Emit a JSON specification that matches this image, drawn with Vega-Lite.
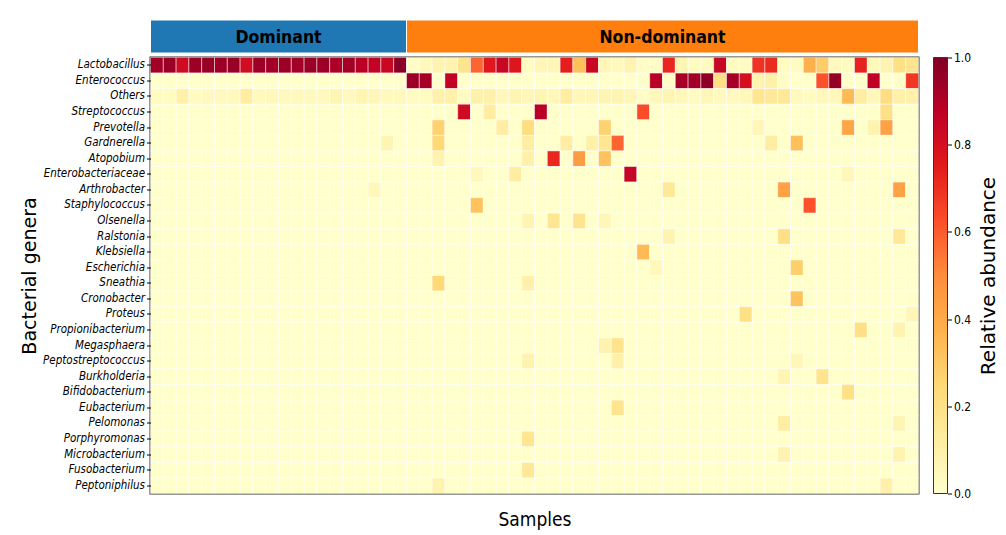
{
"$schema": "https://vega.github.io/schema/vega-lite/v6.json",
"background": "white",
"padding": {"left": 19.5, "top": 19, "right": 2, "bottom": 2},
"bounds": "flush",
"columns": 2,
"spacing": {"row": 4.5, "column": 15},
"config": {"view": {"stroke": null}},
"datasets": {
"groups": [{"group": "Dominant", "start": 0, "end": 20, "mid": 10}, {"group": "Non-dominant", "start": 20, "end": 60, "mid": 40}],
"bar": [{"lo": 0, "hi": 1}],
"genera": [{"g":0,"name":"Lactobacillus"},{"g":1,"name":"Enterococcus"},{"g":2,"name":"Others"},{"g":3,"name":"Streptococcus"},{"g":4,"name":"Prevotella"},{"g":5,"name":"Gardnerella"},{"g":6,"name":"Atopobium"},{"g":7,"name":"Enterobacteriaceae"},{"g":8,"name":"Arthrobacter"},{"g":9,"name":"Staphylococcus"},{"g":10,"name":"Olsenella"},{"g":11,"name":"Ralstonia"},{"g":12,"name":"Klebsiella"},{"g":13,"name":"Escherichia"},{"g":14,"name":"Sneathia"},{"g":15,"name":"Cronobacter"},{"g":16,"name":"Proteus"},{"g":17,"name":"Propionibacterium"},{"g":18,"name":"Megasphaera"},{"g":19,"name":"Peptostreptococcus"},{"g":20,"name":"Burkholderia"},{"g":21,"name":"Bifidobacterium"},{"g":22,"name":"Eubacterium"},{"g":23,"name":"Pelomonas"},{"g":24,"name":"Porphyromonas"},{"g":25,"name":"Microbacterium"},{"g":26,"name":"Fusobacterium"},{"g":27,"name":"Peptoniphilus"}],
"cells": [
{"s":1,"g":0,"v":0.93},{"s":2,"g":0,"v":0.94},{"s":3,"g":0,"v":0.82},{"s":4,"g":0,"v":0.94},{"s":5,"g":0,"v":0.95},{"s":6,"g":0,"v":0.94},{"s":7,"g":0,"v":0.95},{"s":8,"g":0,"v":0.81},{"s":9,"g":0,"v":0.94},{"s":10,"g":0,"v":0.93},
{"s":11,"g":0,"v":0.94},{"s":12,"g":0,"v":0.93},{"s":13,"g":0,"v":0.94},{"s":14,"g":0,"v":0.94},{"s":15,"g":0,"v":0.91},{"s":16,"g":0,"v":0.93},{"s":17,"g":0,"v":0.88},{"s":18,"g":0,"v":0.86},{"s":19,"g":0,"v":0.84},{"s":20,"g":0,"v":0.98},
{"s":21,"g":0,"v":0.02},{"s":22,"g":0,"v":0.04},{"s":23,"g":0,"v":0.08},{"s":24,"g":0,"v":0.08},{"s":25,"g":0,"v":0.18},{"s":26,"g":0,"v":0.58},{"s":27,"g":0,"v":0.76},{"s":28,"g":0,"v":0.84},{"s":29,"g":0,"v":0.77},{"s":30,"g":0,"v":0.03},
{"s":31,"g":0,"v":0.06},{"s":32,"g":0,"v":0.06},{"s":33,"g":0,"v":0.74},{"s":34,"g":0,"v":0.33},{"s":35,"g":0,"v":0.84},{"s":36,"g":0,"v":0.06},{"s":37,"g":0,"v":0.04},{"s":38,"g":0,"v":0.08},{"s":39,"g":0,"v":0.02},{"s":40,"g":0,"v":0.02},
{"s":41,"g":0,"v":0.72},{"s":42,"g":0,"v":0.07},{"s":43,"g":0,"v":0.03},{"s":44,"g":0,"v":0.03},{"s":45,"g":0,"v":0.84},{"s":46,"g":0,"v":0.03},{"s":47,"g":0,"v":0.03},{"s":48,"g":0,"v":0.69},{"s":49,"g":0,"v":0.71},{"s":50,"g":0,"v":0.03},
{"s":51,"g":0,"v":0.03},{"s":52,"g":0,"v":0.38},{"s":53,"g":0,"v":0.29},{"s":54,"g":0,"v":0.04},{"s":55,"g":0,"v":0.03},{"s":56,"g":0,"v":0.73},{"s":57,"g":0,"v":0.05},{"s":58,"g":0,"v":0.08},{"s":59,"g":0,"v":0.2},{"s":60,"g":0,"v":0.18},
{"s":1,"g":1,"v":0},{"s":2,"g":1,"v":0},{"s":3,"g":1,"v":0},{"s":4,"g":1,"v":0},{"s":5,"g":1,"v":0},{"s":6,"g":1,"v":0},{"s":7,"g":1,"v":0},{"s":8,"g":1,"v":0},{"s":9,"g":1,"v":0},{"s":10,"g":1,"v":0},
{"s":11,"g":1,"v":0},{"s":12,"g":1,"v":0},{"s":13,"g":1,"v":0},{"s":14,"g":1,"v":0},{"s":15,"g":1,"v":0},{"s":16,"g":1,"v":0},{"s":17,"g":1,"v":0},{"s":18,"g":1,"v":0},{"s":19,"g":1,"v":0},{"s":20,"g":1,"v":0},
{"s":21,"g":1,"v":0.94},{"s":22,"g":1,"v":0.92},{"s":23,"g":1,"v":0},{"s":24,"g":1,"v":0.86},{"s":25,"g":1,"v":0},{"s":26,"g":1,"v":0},{"s":27,"g":1,"v":0},{"s":28,"g":1,"v":0},{"s":29,"g":1,"v":0},{"s":30,"g":1,"v":0},
{"s":31,"g":1,"v":0},{"s":32,"g":1,"v":0},{"s":33,"g":1,"v":0},{"s":34,"g":1,"v":0},{"s":35,"g":1,"v":0},{"s":36,"g":1,"v":0},{"s":37,"g":1,"v":0},{"s":38,"g":1,"v":0},{"s":39,"g":1,"v":0},{"s":40,"g":1,"v":0.88},
{"s":41,"g":1,"v":0.02},{"s":42,"g":1,"v":0.92},{"s":43,"g":1,"v":0.93},{"s":44,"g":1,"v":0.97},{"s":45,"g":1,"v":0.2},{"s":46,"g":1,"v":0.92},{"s":47,"g":1,"v":0.8},{"s":48,"g":1,"v":0.08},{"s":49,"g":1,"v":0.1},{"s":50,"g":1,"v":0.02},
{"s":51,"g":1,"v":0},{"s":52,"g":1,"v":0},{"s":53,"g":1,"v":0.62},{"s":54,"g":1,"v":0.96},{"s":55,"g":1,"v":0},{"s":56,"g":1,"v":0},{"s":57,"g":1,"v":0.87},{"s":58,"g":1,"v":0},{"s":59,"g":1,"v":0},{"s":60,"g":1,"v":0.68},
{"s":1,"g":2,"v":0.03},{"s":2,"g":2,"v":0.03},{"s":3,"g":2,"v":0.1},{"s":4,"g":2,"v":0.03},{"s":5,"g":2,"v":0.04},{"s":6,"g":2,"v":0.04},{"s":7,"g":2,"v":0.04},{"s":8,"g":2,"v":0.12},{"s":9,"g":2,"v":0.04},{"s":10,"g":2,"v":0.05},
{"s":11,"g":2,"v":0.04},{"s":12,"g":2,"v":0.04},{"s":13,"g":2,"v":0.04},{"s":14,"g":2,"v":0.04},{"s":15,"g":2,"v":0.07},{"s":16,"g":2,"v":0.04},{"s":17,"g":2,"v":0.07},{"s":18,"g":2,"v":0.06},{"s":19,"g":2,"v":0.04},{"s":20,"g":2,"v":0.04},
{"s":21,"g":2,"v":0.03},{"s":22,"g":2,"v":0.03},{"s":23,"g":2,"v":0.1},{"s":24,"g":2,"v":0.1},{"s":25,"g":2,"v":0.03},{"s":26,"g":2,"v":0.1},{"s":27,"g":2,"v":0.1},{"s":28,"g":2,"v":0.05},{"s":29,"g":2,"v":0.07},{"s":30,"g":2,"v":0.06},
{"s":31,"g":2,"v":0.07},{"s":32,"g":2,"v":0.05},{"s":33,"g":2,"v":0.12},{"s":34,"g":2,"v":0.06},{"s":35,"g":2,"v":0.06},{"s":36,"g":2,"v":0.07},{"s":37,"g":2,"v":0.07},{"s":38,"g":2,"v":0.06},{"s":39,"g":2,"v":0.02},{"s":40,"g":2,"v":0.05},
{"s":41,"g":2,"v":0.07},{"s":42,"g":2,"v":0.05},{"s":43,"g":2,"v":0.03},{"s":44,"g":2,"v":0.06},{"s":45,"g":2,"v":0.04},{"s":46,"g":2,"v":0.04},{"s":47,"g":2,"v":0.05},{"s":48,"g":2,"v":0.17},{"s":49,"g":2,"v":0.15},{"s":50,"g":2,"v":0.15},
{"s":51,"g":2,"v":0.04},{"s":52,"g":2,"v":0.03},{"s":53,"g":2,"v":0.05},{"s":54,"g":2,"v":0.05},{"s":55,"g":2,"v":0.35},{"s":56,"g":2,"v":0.12},{"s":57,"g":2,"v":0.05},{"s":58,"g":2,"v":0.22},{"s":59,"g":2,"v":0.1},{"s":60,"g":2,"v":0.1},
{"s":1,"g":3,"v":0},{"s":2,"g":3,"v":0},{"s":3,"g":3,"v":0},{"s":4,"g":3,"v":0},{"s":5,"g":3,"v":0},{"s":6,"g":3,"v":0},{"s":7,"g":3,"v":0},{"s":8,"g":3,"v":0},{"s":9,"g":3,"v":0},{"s":10,"g":3,"v":0},
{"s":11,"g":3,"v":0},{"s":12,"g":3,"v":0},{"s":13,"g":3,"v":0},{"s":14,"g":3,"v":0},{"s":15,"g":3,"v":0},{"s":16,"g":3,"v":0},{"s":17,"g":3,"v":0},{"s":18,"g":3,"v":0},{"s":19,"g":3,"v":0},{"s":20,"g":3,"v":0},
{"s":21,"g":3,"v":0},{"s":22,"g":3,"v":0},{"s":23,"g":3,"v":0},{"s":24,"g":3,"v":0},{"s":25,"g":3,"v":0.82},{"s":26,"g":3,"v":0},{"s":27,"g":3,"v":0.12},{"s":28,"g":3,"v":0},{"s":29,"g":3,"v":0},{"s":30,"g":3,"v":0},
{"s":31,"g":3,"v":0.88},{"s":32,"g":3,"v":0},{"s":33,"g":3,"v":0},{"s":34,"g":3,"v":0},{"s":35,"g":3,"v":0},{"s":36,"g":3,"v":0},{"s":37,"g":3,"v":0},{"s":38,"g":3,"v":0},{"s":39,"g":3,"v":0.63},{"s":40,"g":3,"v":0},
{"s":41,"g":3,"v":0},{"s":42,"g":3,"v":0},{"s":43,"g":3,"v":0},{"s":44,"g":3,"v":0},{"s":45,"g":3,"v":0},{"s":46,"g":3,"v":0},{"s":47,"g":3,"v":0},{"s":48,"g":3,"v":0},{"s":49,"g":3,"v":0},{"s":50,"g":3,"v":0},
{"s":51,"g":3,"v":0},{"s":52,"g":3,"v":0},{"s":53,"g":3,"v":0},{"s":54,"g":3,"v":0},{"s":55,"g":3,"v":0},{"s":56,"g":3,"v":0},{"s":57,"g":3,"v":0},{"s":58,"g":3,"v":0.2},{"s":59,"g":3,"v":0},{"s":60,"g":3,"v":0},
{"s":1,"g":4,"v":0},{"s":2,"g":4,"v":0},{"s":3,"g":4,"v":0},{"s":4,"g":4,"v":0},{"s":5,"g":4,"v":0},{"s":6,"g":4,"v":0},{"s":7,"g":4,"v":0},{"s":8,"g":4,"v":0},{"s":9,"g":4,"v":0},{"s":10,"g":4,"v":0},
{"s":11,"g":4,"v":0},{"s":12,"g":4,"v":0},{"s":13,"g":4,"v":0},{"s":14,"g":4,"v":0},{"s":15,"g":4,"v":0},{"s":16,"g":4,"v":0},{"s":17,"g":4,"v":0},{"s":18,"g":4,"v":0},{"s":19,"g":4,"v":0},{"s":20,"g":4,"v":0},
{"s":21,"g":4,"v":0},{"s":22,"g":4,"v":0},{"s":23,"g":4,"v":0.27},{"s":24,"g":4,"v":0},{"s":25,"g":4,"v":0},{"s":26,"g":4,"v":0},{"s":27,"g":4,"v":0},{"s":28,"g":4,"v":0.12},{"s":29,"g":4,"v":0},{"s":30,"g":4,"v":0.22},
{"s":31,"g":4,"v":0},{"s":32,"g":4,"v":0},{"s":33,"g":4,"v":0},{"s":34,"g":4,"v":0},{"s":35,"g":4,"v":0},{"s":36,"g":4,"v":0.27},{"s":37,"g":4,"v":0},{"s":38,"g":4,"v":0},{"s":39,"g":4,"v":0},{"s":40,"g":4,"v":0},
{"s":41,"g":4,"v":0},{"s":42,"g":4,"v":0},{"s":43,"g":4,"v":0},{"s":44,"g":4,"v":0},{"s":45,"g":4,"v":0},{"s":46,"g":4,"v":0},{"s":47,"g":4,"v":0},{"s":48,"g":4,"v":0.06},{"s":49,"g":4,"v":0},{"s":50,"g":4,"v":0},
{"s":51,"g":4,"v":0},{"s":52,"g":4,"v":0},{"s":53,"g":4,"v":0},{"s":54,"g":4,"v":0},{"s":55,"g":4,"v":0.42},{"s":56,"g":4,"v":0},{"s":57,"g":4,"v":0.08},{"s":58,"g":4,"v":0.43},{"s":59,"g":4,"v":0},{"s":60,"g":4,"v":0},
{"s":1,"g":5,"v":0},{"s":2,"g":5,"v":0},{"s":3,"g":5,"v":0},{"s":4,"g":5,"v":0},{"s":5,"g":5,"v":0},{"s":6,"g":5,"v":0},{"s":7,"g":5,"v":0},{"s":8,"g":5,"v":0},{"s":9,"g":5,"v":0},{"s":10,"g":5,"v":0},
{"s":11,"g":5,"v":0},{"s":12,"g":5,"v":0},{"s":13,"g":5,"v":0},{"s":14,"g":5,"v":0},{"s":15,"g":5,"v":0},{"s":16,"g":5,"v":0},{"s":17,"g":5,"v":0},{"s":18,"g":5,"v":0},{"s":19,"g":5,"v":0.07},{"s":20,"g":5,"v":0},
{"s":21,"g":5,"v":0},{"s":22,"g":5,"v":0},{"s":23,"g":5,"v":0.25},{"s":24,"g":5,"v":0},{"s":25,"g":5,"v":0},{"s":26,"g":5,"v":0},{"s":27,"g":5,"v":0},{"s":28,"g":5,"v":0},{"s":29,"g":5,"v":0},{"s":30,"g":5,"v":0.12},
{"s":31,"g":5,"v":0},{"s":32,"g":5,"v":0},{"s":33,"g":5,"v":0.12},{"s":34,"g":5,"v":0},{"s":35,"g":5,"v":0.1},{"s":36,"g":5,"v":0.17},{"s":37,"g":5,"v":0.58},{"s":38,"g":5,"v":0},{"s":39,"g":5,"v":0},{"s":40,"g":5,"v":0},
{"s":41,"g":5,"v":0},{"s":42,"g":5,"v":0},{"s":43,"g":5,"v":0},{"s":44,"g":5,"v":0},{"s":45,"g":5,"v":0},{"s":46,"g":5,"v":0},{"s":47,"g":5,"v":0},{"s":48,"g":5,"v":0},{"s":49,"g":5,"v":0.12},{"s":50,"g":5,"v":0},
{"s":51,"g":5,"v":0.33},{"s":52,"g":5,"v":0},{"s":53,"g":5,"v":0},{"s":54,"g":5,"v":0},{"s":55,"g":5,"v":0},{"s":56,"g":5,"v":0},{"s":57,"g":5,"v":0},{"s":58,"g":5,"v":0},{"s":59,"g":5,"v":0},{"s":60,"g":5,"v":0},
{"s":1,"g":6,"v":0},{"s":2,"g":6,"v":0},{"s":3,"g":6,"v":0},{"s":4,"g":6,"v":0},{"s":5,"g":6,"v":0},{"s":6,"g":6,"v":0},{"s":7,"g":6,"v":0},{"s":8,"g":6,"v":0},{"s":9,"g":6,"v":0},{"s":10,"g":6,"v":0},
{"s":11,"g":6,"v":0},{"s":12,"g":6,"v":0},{"s":13,"g":6,"v":0},{"s":14,"g":6,"v":0},{"s":15,"g":6,"v":0},{"s":16,"g":6,"v":0},{"s":17,"g":6,"v":0},{"s":18,"g":6,"v":0},{"s":19,"g":6,"v":0},{"s":20,"g":6,"v":0},
{"s":21,"g":6,"v":0},{"s":22,"g":6,"v":0},{"s":23,"g":6,"v":0.08},{"s":24,"g":6,"v":0},{"s":25,"g":6,"v":0},{"s":26,"g":6,"v":0},{"s":27,"g":6,"v":0},{"s":28,"g":6,"v":0},{"s":29,"g":6,"v":0},{"s":30,"g":6,"v":0.1},
{"s":31,"g":6,"v":0},{"s":32,"g":6,"v":0.72},{"s":33,"g":6,"v":0},{"s":34,"g":6,"v":0.45},{"s":35,"g":6,"v":0},{"s":36,"g":6,"v":0.32},{"s":37,"g":6,"v":0},{"s":38,"g":6,"v":0},{"s":39,"g":6,"v":0},{"s":40,"g":6,"v":0},
{"s":41,"g":6,"v":0},{"s":42,"g":6,"v":0},{"s":43,"g":6,"v":0},{"s":44,"g":6,"v":0},{"s":45,"g":6,"v":0},{"s":46,"g":6,"v":0},{"s":47,"g":6,"v":0},{"s":48,"g":6,"v":0},{"s":49,"g":6,"v":0},{"s":50,"g":6,"v":0},
{"s":51,"g":6,"v":0},{"s":52,"g":6,"v":0},{"s":53,"g":6,"v":0},{"s":54,"g":6,"v":0},{"s":55,"g":6,"v":0},{"s":56,"g":6,"v":0},{"s":57,"g":6,"v":0},{"s":58,"g":6,"v":0},{"s":59,"g":6,"v":0},{"s":60,"g":6,"v":0},
{"s":1,"g":7,"v":0},{"s":2,"g":7,"v":0},{"s":3,"g":7,"v":0},{"s":4,"g":7,"v":0},{"s":5,"g":7,"v":0},{"s":6,"g":7,"v":0},{"s":7,"g":7,"v":0},{"s":8,"g":7,"v":0},{"s":9,"g":7,"v":0},{"s":10,"g":7,"v":0},
{"s":11,"g":7,"v":0},{"s":12,"g":7,"v":0},{"s":13,"g":7,"v":0},{"s":14,"g":7,"v":0},{"s":15,"g":7,"v":0},{"s":16,"g":7,"v":0},{"s":17,"g":7,"v":0},{"s":18,"g":7,"v":0},{"s":19,"g":7,"v":0},{"s":20,"g":7,"v":0},
{"s":21,"g":7,"v":0},{"s":22,"g":7,"v":0},{"s":23,"g":7,"v":0},{"s":24,"g":7,"v":0},{"s":25,"g":7,"v":0},{"s":26,"g":7,"v":0.05},{"s":27,"g":7,"v":0},{"s":28,"g":7,"v":0},{"s":29,"g":7,"v":0.12},{"s":30,"g":7,"v":0},
{"s":31,"g":7,"v":0},{"s":32,"g":7,"v":0},{"s":33,"g":7,"v":0},{"s":34,"g":7,"v":0},{"s":35,"g":7,"v":0},{"s":36,"g":7,"v":0},{"s":37,"g":7,"v":0},{"s":38,"g":7,"v":0.85},{"s":39,"g":7,"v":0},{"s":40,"g":7,"v":0},
{"s":41,"g":7,"v":0},{"s":42,"g":7,"v":0},{"s":43,"g":7,"v":0},{"s":44,"g":7,"v":0},{"s":45,"g":7,"v":0},{"s":46,"g":7,"v":0},{"s":47,"g":7,"v":0},{"s":48,"g":7,"v":0},{"s":49,"g":7,"v":0},{"s":50,"g":7,"v":0},
{"s":51,"g":7,"v":0},{"s":52,"g":7,"v":0},{"s":53,"g":7,"v":0},{"s":54,"g":7,"v":0},{"s":55,"g":7,"v":0.06},{"s":56,"g":7,"v":0},{"s":57,"g":7,"v":0},{"s":58,"g":7,"v":0},{"s":59,"g":7,"v":0},{"s":60,"g":7,"v":0},
{"s":1,"g":8,"v":0},{"s":2,"g":8,"v":0},{"s":3,"g":8,"v":0},{"s":4,"g":8,"v":0},{"s":5,"g":8,"v":0},{"s":6,"g":8,"v":0},{"s":7,"g":8,"v":0},{"s":8,"g":8,"v":0},{"s":9,"g":8,"v":0},{"s":10,"g":8,"v":0},
{"s":11,"g":8,"v":0},{"s":12,"g":8,"v":0},{"s":13,"g":8,"v":0},{"s":14,"g":8,"v":0},{"s":15,"g":8,"v":0},{"s":16,"g":8,"v":0},{"s":17,"g":8,"v":0},{"s":18,"g":8,"v":0.05},{"s":19,"g":8,"v":0},{"s":20,"g":8,"v":0},
{"s":21,"g":8,"v":0},{"s":22,"g":8,"v":0},{"s":23,"g":8,"v":0},{"s":24,"g":8,"v":0},{"s":25,"g":8,"v":0},{"s":26,"g":8,"v":0},{"s":27,"g":8,"v":0},{"s":28,"g":8,"v":0},{"s":29,"g":8,"v":0},{"s":30,"g":8,"v":0},
{"s":31,"g":8,"v":0},{"s":32,"g":8,"v":0},{"s":33,"g":8,"v":0},{"s":34,"g":8,"v":0},{"s":35,"g":8,"v":0},{"s":36,"g":8,"v":0},{"s":37,"g":8,"v":0},{"s":38,"g":8,"v":0},{"s":39,"g":8,"v":0},{"s":40,"g":8,"v":0},
{"s":41,"g":8,"v":0.15},{"s":42,"g":8,"v":0},{"s":43,"g":8,"v":0},{"s":44,"g":8,"v":0},{"s":45,"g":8,"v":0},{"s":46,"g":8,"v":0},{"s":47,"g":8,"v":0},{"s":48,"g":8,"v":0},{"s":49,"g":8,"v":0},{"s":50,"g":8,"v":0.43},
{"s":51,"g":8,"v":0},{"s":52,"g":8,"v":0},{"s":53,"g":8,"v":0},{"s":54,"g":8,"v":0},{"s":55,"g":8,"v":0},{"s":56,"g":8,"v":0},{"s":57,"g":8,"v":0},{"s":58,"g":8,"v":0},{"s":59,"g":8,"v":0.43},{"s":60,"g":8,"v":0},
{"s":1,"g":9,"v":0},{"s":2,"g":9,"v":0},{"s":3,"g":9,"v":0},{"s":4,"g":9,"v":0},{"s":5,"g":9,"v":0},{"s":6,"g":9,"v":0},{"s":7,"g":9,"v":0},{"s":8,"g":9,"v":0},{"s":9,"g":9,"v":0},{"s":10,"g":9,"v":0},
{"s":11,"g":9,"v":0},{"s":12,"g":9,"v":0},{"s":13,"g":9,"v":0},{"s":14,"g":9,"v":0},{"s":15,"g":9,"v":0},{"s":16,"g":9,"v":0},{"s":17,"g":9,"v":0},{"s":18,"g":9,"v":0},{"s":19,"g":9,"v":0},{"s":20,"g":9,"v":0},
{"s":21,"g":9,"v":0},{"s":22,"g":9,"v":0},{"s":23,"g":9,"v":0},{"s":24,"g":9,"v":0},{"s":25,"g":9,"v":0},{"s":26,"g":9,"v":0.32},{"s":27,"g":9,"v":0},{"s":28,"g":9,"v":0},{"s":29,"g":9,"v":0},{"s":30,"g":9,"v":0},
{"s":31,"g":9,"v":0},{"s":32,"g":9,"v":0},{"s":33,"g":9,"v":0},{"s":34,"g":9,"v":0},{"s":35,"g":9,"v":0},{"s":36,"g":9,"v":0},{"s":37,"g":9,"v":0},{"s":38,"g":9,"v":0},{"s":39,"g":9,"v":0},{"s":40,"g":9,"v":0},
{"s":41,"g":9,"v":0},{"s":42,"g":9,"v":0},{"s":43,"g":9,"v":0},{"s":44,"g":9,"v":0},{"s":45,"g":9,"v":0},{"s":46,"g":9,"v":0},{"s":47,"g":9,"v":0},{"s":48,"g":9,"v":0},{"s":49,"g":9,"v":0},{"s":50,"g":9,"v":0},
{"s":51,"g":9,"v":0},{"s":52,"g":9,"v":0.62},{"s":53,"g":9,"v":0},{"s":54,"g":9,"v":0},{"s":55,"g":9,"v":0},{"s":56,"g":9,"v":0},{"s":57,"g":9,"v":0},{"s":58,"g":9,"v":0},{"s":59,"g":9,"v":0},{"s":60,"g":9,"v":0},
{"s":1,"g":10,"v":0},{"s":2,"g":10,"v":0},{"s":3,"g":10,"v":0},{"s":4,"g":10,"v":0},{"s":5,"g":10,"v":0},{"s":6,"g":10,"v":0},{"s":7,"g":10,"v":0},{"s":8,"g":10,"v":0},{"s":9,"g":10,"v":0},{"s":10,"g":10,"v":0},
{"s":11,"g":10,"v":0},{"s":12,"g":10,"v":0},{"s":13,"g":10,"v":0},{"s":14,"g":10,"v":0},{"s":15,"g":10,"v":0},{"s":16,"g":10,"v":0},{"s":17,"g":10,"v":0},{"s":18,"g":10,"v":0},{"s":19,"g":10,"v":0},{"s":20,"g":10,"v":0},
{"s":21,"g":10,"v":0},{"s":22,"g":10,"v":0},{"s":23,"g":10,"v":0},{"s":24,"g":10,"v":0},{"s":25,"g":10,"v":0},{"s":26,"g":10,"v":0},{"s":27,"g":10,"v":0},{"s":28,"g":10,"v":0},{"s":29,"g":10,"v":0},{"s":30,"g":10,"v":0.07},
{"s":31,"g":10,"v":0},{"s":32,"g":10,"v":0.17},{"s":33,"g":10,"v":0},{"s":34,"g":10,"v":0.18},{"s":35,"g":10,"v":0},{"s":36,"g":10,"v":0.06},{"s":37,"g":10,"v":0},{"s":38,"g":10,"v":0},{"s":39,"g":10,"v":0},{"s":40,"g":10,"v":0},
{"s":41,"g":10,"v":0},{"s":42,"g":10,"v":0},{"s":43,"g":10,"v":0},{"s":44,"g":10,"v":0},{"s":45,"g":10,"v":0},{"s":46,"g":10,"v":0},{"s":47,"g":10,"v":0},{"s":48,"g":10,"v":0},{"s":49,"g":10,"v":0},{"s":50,"g":10,"v":0},
{"s":51,"g":10,"v":0},{"s":52,"g":10,"v":0},{"s":53,"g":10,"v":0},{"s":54,"g":10,"v":0},{"s":55,"g":10,"v":0},{"s":56,"g":10,"v":0},{"s":57,"g":10,"v":0},{"s":58,"g":10,"v":0},{"s":59,"g":10,"v":0},{"s":60,"g":10,"v":0},
{"s":1,"g":11,"v":0},{"s":2,"g":11,"v":0},{"s":3,"g":11,"v":0},{"s":4,"g":11,"v":0},{"s":5,"g":11,"v":0},{"s":6,"g":11,"v":0},{"s":7,"g":11,"v":0},{"s":8,"g":11,"v":0},{"s":9,"g":11,"v":0},{"s":10,"g":11,"v":0},
{"s":11,"g":11,"v":0},{"s":12,"g":11,"v":0},{"s":13,"g":11,"v":0},{"s":14,"g":11,"v":0},{"s":15,"g":11,"v":0},{"s":16,"g":11,"v":0},{"s":17,"g":11,"v":0},{"s":18,"g":11,"v":0},{"s":19,"g":11,"v":0},{"s":20,"g":11,"v":0},
{"s":21,"g":11,"v":0},{"s":22,"g":11,"v":0},{"s":23,"g":11,"v":0},{"s":24,"g":11,"v":0},{"s":25,"g":11,"v":0},{"s":26,"g":11,"v":0},{"s":27,"g":11,"v":0},{"s":28,"g":11,"v":0},{"s":29,"g":11,"v":0},{"s":30,"g":11,"v":0},
{"s":31,"g":11,"v":0},{"s":32,"g":11,"v":0},{"s":33,"g":11,"v":0},{"s":34,"g":11,"v":0},{"s":35,"g":11,"v":0},{"s":36,"g":11,"v":0},{"s":37,"g":11,"v":0},{"s":38,"g":11,"v":0},{"s":39,"g":11,"v":0},{"s":40,"g":11,"v":0},
{"s":41,"g":11,"v":0.08},{"s":42,"g":11,"v":0},{"s":43,"g":11,"v":0},{"s":44,"g":11,"v":0},{"s":45,"g":11,"v":0},{"s":46,"g":11,"v":0},{"s":47,"g":11,"v":0},{"s":48,"g":11,"v":0},{"s":49,"g":11,"v":0},{"s":50,"g":11,"v":0.2},
{"s":51,"g":11,"v":0},{"s":52,"g":11,"v":0},{"s":53,"g":11,"v":0},{"s":54,"g":11,"v":0},{"s":55,"g":11,"v":0},{"s":56,"g":11,"v":0},{"s":57,"g":11,"v":0},{"s":58,"g":11,"v":0},{"s":59,"g":11,"v":0.15},{"s":60,"g":11,"v":0},
{"s":1,"g":12,"v":0},{"s":2,"g":12,"v":0},{"s":3,"g":12,"v":0},{"s":4,"g":12,"v":0},{"s":5,"g":12,"v":0},{"s":6,"g":12,"v":0},{"s":7,"g":12,"v":0},{"s":8,"g":12,"v":0},{"s":9,"g":12,"v":0},{"s":10,"g":12,"v":0},
{"s":11,"g":12,"v":0},{"s":12,"g":12,"v":0},{"s":13,"g":12,"v":0},{"s":14,"g":12,"v":0},{"s":15,"g":12,"v":0},{"s":16,"g":12,"v":0},{"s":17,"g":12,"v":0},{"s":18,"g":12,"v":0},{"s":19,"g":12,"v":0},{"s":20,"g":12,"v":0},
{"s":21,"g":12,"v":0},{"s":22,"g":12,"v":0},{"s":23,"g":12,"v":0},{"s":24,"g":12,"v":0},{"s":25,"g":12,"v":0},{"s":26,"g":12,"v":0},{"s":27,"g":12,"v":0},{"s":28,"g":12,"v":0},{"s":29,"g":12,"v":0},{"s":30,"g":12,"v":0},
{"s":31,"g":12,"v":0},{"s":32,"g":12,"v":0},{"s":33,"g":12,"v":0},{"s":34,"g":12,"v":0},{"s":35,"g":12,"v":0},{"s":36,"g":12,"v":0},{"s":37,"g":12,"v":0},{"s":38,"g":12,"v":0},{"s":39,"g":12,"v":0.35},{"s":40,"g":12,"v":0},
{"s":41,"g":12,"v":0},{"s":42,"g":12,"v":0},{"s":43,"g":12,"v":0},{"s":44,"g":12,"v":0},{"s":45,"g":12,"v":0},{"s":46,"g":12,"v":0},{"s":47,"g":12,"v":0},{"s":48,"g":12,"v":0},{"s":49,"g":12,"v":0},{"s":50,"g":12,"v":0},
{"s":51,"g":12,"v":0},{"s":52,"g":12,"v":0},{"s":53,"g":12,"v":0},{"s":54,"g":12,"v":0},{"s":55,"g":12,"v":0},{"s":56,"g":12,"v":0},{"s":57,"g":12,"v":0},{"s":58,"g":12,"v":0},{"s":59,"g":12,"v":0},{"s":60,"g":12,"v":0},
{"s":1,"g":13,"v":0},{"s":2,"g":13,"v":0},{"s":3,"g":13,"v":0},{"s":4,"g":13,"v":0},{"s":5,"g":13,"v":0},{"s":6,"g":13,"v":0},{"s":7,"g":13,"v":0},{"s":8,"g":13,"v":0},{"s":9,"g":13,"v":0},{"s":10,"g":13,"v":0},
{"s":11,"g":13,"v":0},{"s":12,"g":13,"v":0},{"s":13,"g":13,"v":0},{"s":14,"g":13,"v":0},{"s":15,"g":13,"v":0},{"s":16,"g":13,"v":0},{"s":17,"g":13,"v":0},{"s":18,"g":13,"v":0},{"s":19,"g":13,"v":0},{"s":20,"g":13,"v":0},
{"s":21,"g":13,"v":0},{"s":22,"g":13,"v":0},{"s":23,"g":13,"v":0},{"s":24,"g":13,"v":0},{"s":25,"g":13,"v":0},{"s":26,"g":13,"v":0},{"s":27,"g":13,"v":0},{"s":28,"g":13,"v":0},{"s":29,"g":13,"v":0},{"s":30,"g":13,"v":0},
{"s":31,"g":13,"v":0},{"s":32,"g":13,"v":0},{"s":33,"g":13,"v":0},{"s":34,"g":13,"v":0},{"s":35,"g":13,"v":0},{"s":36,"g":13,"v":0},{"s":37,"g":13,"v":0},{"s":38,"g":13,"v":0},{"s":39,"g":13,"v":0},{"s":40,"g":13,"v":0.05},
{"s":41,"g":13,"v":0},{"s":42,"g":13,"v":0},{"s":43,"g":13,"v":0},{"s":44,"g":13,"v":0},{"s":45,"g":13,"v":0},{"s":46,"g":13,"v":0},{"s":47,"g":13,"v":0},{"s":48,"g":13,"v":0},{"s":49,"g":13,"v":0},{"s":50,"g":13,"v":0},
{"s":51,"g":13,"v":0.28},{"s":52,"g":13,"v":0},{"s":53,"g":13,"v":0},{"s":54,"g":13,"v":0},{"s":55,"g":13,"v":0},{"s":56,"g":13,"v":0},{"s":57,"g":13,"v":0},{"s":58,"g":13,"v":0},{"s":59,"g":13,"v":0},{"s":60,"g":13,"v":0},
{"s":1,"g":14,"v":0},{"s":2,"g":14,"v":0},{"s":3,"g":14,"v":0},{"s":4,"g":14,"v":0},{"s":5,"g":14,"v":0},{"s":6,"g":14,"v":0},{"s":7,"g":14,"v":0},{"s":8,"g":14,"v":0},{"s":9,"g":14,"v":0},{"s":10,"g":14,"v":0},
{"s":11,"g":14,"v":0},{"s":12,"g":14,"v":0},{"s":13,"g":14,"v":0},{"s":14,"g":14,"v":0},{"s":15,"g":14,"v":0},{"s":16,"g":14,"v":0},{"s":17,"g":14,"v":0},{"s":18,"g":14,"v":0},{"s":19,"g":14,"v":0},{"s":20,"g":14,"v":0},
{"s":21,"g":14,"v":0},{"s":22,"g":14,"v":0},{"s":23,"g":14,"v":0.25},{"s":24,"g":14,"v":0},{"s":25,"g":14,"v":0},{"s":26,"g":14,"v":0},{"s":27,"g":14,"v":0},{"s":28,"g":14,"v":0},{"s":29,"g":14,"v":0},{"s":30,"g":14,"v":0.1},
{"s":31,"g":14,"v":0},{"s":32,"g":14,"v":0},{"s":33,"g":14,"v":0},{"s":34,"g":14,"v":0},{"s":35,"g":14,"v":0},{"s":36,"g":14,"v":0},{"s":37,"g":14,"v":0},{"s":38,"g":14,"v":0},{"s":39,"g":14,"v":0},{"s":40,"g":14,"v":0},
{"s":41,"g":14,"v":0},{"s":42,"g":14,"v":0},{"s":43,"g":14,"v":0},{"s":44,"g":14,"v":0},{"s":45,"g":14,"v":0},{"s":46,"g":14,"v":0},{"s":47,"g":14,"v":0},{"s":48,"g":14,"v":0},{"s":49,"g":14,"v":0},{"s":50,"g":14,"v":0},
{"s":51,"g":14,"v":0},{"s":52,"g":14,"v":0},{"s":53,"g":14,"v":0},{"s":54,"g":14,"v":0},{"s":55,"g":14,"v":0},{"s":56,"g":14,"v":0},{"s":57,"g":14,"v":0},{"s":58,"g":14,"v":0},{"s":59,"g":14,"v":0},{"s":60,"g":14,"v":0},
{"s":1,"g":15,"v":0},{"s":2,"g":15,"v":0},{"s":3,"g":15,"v":0},{"s":4,"g":15,"v":0},{"s":5,"g":15,"v":0},{"s":6,"g":15,"v":0},{"s":7,"g":15,"v":0},{"s":8,"g":15,"v":0},{"s":9,"g":15,"v":0},{"s":10,"g":15,"v":0},
{"s":11,"g":15,"v":0},{"s":12,"g":15,"v":0},{"s":13,"g":15,"v":0},{"s":14,"g":15,"v":0},{"s":15,"g":15,"v":0},{"s":16,"g":15,"v":0},{"s":17,"g":15,"v":0},{"s":18,"g":15,"v":0},{"s":19,"g":15,"v":0},{"s":20,"g":15,"v":0},
{"s":21,"g":15,"v":0},{"s":22,"g":15,"v":0},{"s":23,"g":15,"v":0},{"s":24,"g":15,"v":0},{"s":25,"g":15,"v":0},{"s":26,"g":15,"v":0},{"s":27,"g":15,"v":0},{"s":28,"g":15,"v":0},{"s":29,"g":15,"v":0},{"s":30,"g":15,"v":0},
{"s":31,"g":15,"v":0},{"s":32,"g":15,"v":0},{"s":33,"g":15,"v":0},{"s":34,"g":15,"v":0},{"s":35,"g":15,"v":0},{"s":36,"g":15,"v":0},{"s":37,"g":15,"v":0},{"s":38,"g":15,"v":0},{"s":39,"g":15,"v":0},{"s":40,"g":15,"v":0},
{"s":41,"g":15,"v":0},{"s":42,"g":15,"v":0},{"s":43,"g":15,"v":0},{"s":44,"g":15,"v":0},{"s":45,"g":15,"v":0},{"s":46,"g":15,"v":0},{"s":47,"g":15,"v":0},{"s":48,"g":15,"v":0},{"s":49,"g":15,"v":0},{"s":50,"g":15,"v":0},
{"s":51,"g":15,"v":0.32},{"s":52,"g":15,"v":0},{"s":53,"g":15,"v":0},{"s":54,"g":15,"v":0},{"s":55,"g":15,"v":0},{"s":56,"g":15,"v":0},{"s":57,"g":15,"v":0},{"s":58,"g":15,"v":0},{"s":59,"g":15,"v":0},{"s":60,"g":15,"v":0},
{"s":1,"g":16,"v":0},{"s":2,"g":16,"v":0},{"s":3,"g":16,"v":0},{"s":4,"g":16,"v":0},{"s":5,"g":16,"v":0},{"s":6,"g":16,"v":0},{"s":7,"g":16,"v":0},{"s":8,"g":16,"v":0},{"s":9,"g":16,"v":0},{"s":10,"g":16,"v":0},
{"s":11,"g":16,"v":0},{"s":12,"g":16,"v":0},{"s":13,"g":16,"v":0},{"s":14,"g":16,"v":0},{"s":15,"g":16,"v":0},{"s":16,"g":16,"v":0},{"s":17,"g":16,"v":0},{"s":18,"g":16,"v":0},{"s":19,"g":16,"v":0},{"s":20,"g":16,"v":0},
{"s":21,"g":16,"v":0},{"s":22,"g":16,"v":0},{"s":23,"g":16,"v":0},{"s":24,"g":16,"v":0},{"s":25,"g":16,"v":0},{"s":26,"g":16,"v":0},{"s":27,"g":16,"v":0},{"s":28,"g":16,"v":0},{"s":29,"g":16,"v":0},{"s":30,"g":16,"v":0},
{"s":31,"g":16,"v":0},{"s":32,"g":16,"v":0},{"s":33,"g":16,"v":0},{"s":34,"g":16,"v":0},{"s":35,"g":16,"v":0},{"s":36,"g":16,"v":0},{"s":37,"g":16,"v":0},{"s":38,"g":16,"v":0},{"s":39,"g":16,"v":0},{"s":40,"g":16,"v":0},
{"s":41,"g":16,"v":0},{"s":42,"g":16,"v":0},{"s":43,"g":16,"v":0},{"s":44,"g":16,"v":0},{"s":45,"g":16,"v":0},{"s":46,"g":16,"v":0},{"s":47,"g":16,"v":0.2},{"s":48,"g":16,"v":0},{"s":49,"g":16,"v":0},{"s":50,"g":16,"v":0},
{"s":51,"g":16,"v":0},{"s":52,"g":16,"v":0},{"s":53,"g":16,"v":0},{"s":54,"g":16,"v":0},{"s":55,"g":16,"v":0},{"s":56,"g":16,"v":0},{"s":57,"g":16,"v":0},{"s":58,"g":16,"v":0},{"s":59,"g":16,"v":0},{"s":60,"g":16,"v":0.06},
{"s":1,"g":17,"v":0},{"s":2,"g":17,"v":0},{"s":3,"g":17,"v":0},{"s":4,"g":17,"v":0},{"s":5,"g":17,"v":0},{"s":6,"g":17,"v":0},{"s":7,"g":17,"v":0},{"s":8,"g":17,"v":0},{"s":9,"g":17,"v":0},{"s":10,"g":17,"v":0},
{"s":11,"g":17,"v":0},{"s":12,"g":17,"v":0},{"s":13,"g":17,"v":0},{"s":14,"g":17,"v":0},{"s":15,"g":17,"v":0},{"s":16,"g":17,"v":0},{"s":17,"g":17,"v":0},{"s":18,"g":17,"v":0},{"s":19,"g":17,"v":0},{"s":20,"g":17,"v":0},
{"s":21,"g":17,"v":0},{"s":22,"g":17,"v":0},{"s":23,"g":17,"v":0},{"s":24,"g":17,"v":0},{"s":25,"g":17,"v":0},{"s":26,"g":17,"v":0},{"s":27,"g":17,"v":0},{"s":28,"g":17,"v":0},{"s":29,"g":17,"v":0},{"s":30,"g":17,"v":0},
{"s":31,"g":17,"v":0},{"s":32,"g":17,"v":0},{"s":33,"g":17,"v":0},{"s":34,"g":17,"v":0},{"s":35,"g":17,"v":0},{"s":36,"g":17,"v":0},{"s":37,"g":17,"v":0},{"s":38,"g":17,"v":0},{"s":39,"g":17,"v":0},{"s":40,"g":17,"v":0},
{"s":41,"g":17,"v":0},{"s":42,"g":17,"v":0},{"s":43,"g":17,"v":0},{"s":44,"g":17,"v":0},{"s":45,"g":17,"v":0},{"s":46,"g":17,"v":0},{"s":47,"g":17,"v":0},{"s":48,"g":17,"v":0},{"s":49,"g":17,"v":0},{"s":50,"g":17,"v":0},
{"s":51,"g":17,"v":0},{"s":52,"g":17,"v":0},{"s":53,"g":17,"v":0},{"s":54,"g":17,"v":0},{"s":55,"g":17,"v":0},{"s":56,"g":17,"v":0.2},{"s":57,"g":17,"v":0},{"s":58,"g":17,"v":0},{"s":59,"g":17,"v":0.08},{"s":60,"g":17,"v":0},
{"s":1,"g":18,"v":0},{"s":2,"g":18,"v":0},{"s":3,"g":18,"v":0},{"s":4,"g":18,"v":0},{"s":5,"g":18,"v":0},{"s":6,"g":18,"v":0},{"s":7,"g":18,"v":0},{"s":8,"g":18,"v":0},{"s":9,"g":18,"v":0},{"s":10,"g":18,"v":0},
{"s":11,"g":18,"v":0},{"s":12,"g":18,"v":0},{"s":13,"g":18,"v":0},{"s":14,"g":18,"v":0},{"s":15,"g":18,"v":0},{"s":16,"g":18,"v":0},{"s":17,"g":18,"v":0},{"s":18,"g":18,"v":0},{"s":19,"g":18,"v":0},{"s":20,"g":18,"v":0},
{"s":21,"g":18,"v":0},{"s":22,"g":18,"v":0},{"s":23,"g":18,"v":0},{"s":24,"g":18,"v":0},{"s":25,"g":18,"v":0},{"s":26,"g":18,"v":0},{"s":27,"g":18,"v":0},{"s":28,"g":18,"v":0},{"s":29,"g":18,"v":0},{"s":30,"g":18,"v":0},
{"s":31,"g":18,"v":0},{"s":32,"g":18,"v":0},{"s":33,"g":18,"v":0},{"s":34,"g":18,"v":0},{"s":35,"g":18,"v":0},{"s":36,"g":18,"v":0.08},{"s":37,"g":18,"v":0.18},{"s":38,"g":18,"v":0},{"s":39,"g":18,"v":0},{"s":40,"g":18,"v":0},
{"s":41,"g":18,"v":0},{"s":42,"g":18,"v":0},{"s":43,"g":18,"v":0},{"s":44,"g":18,"v":0},{"s":45,"g":18,"v":0},{"s":46,"g":18,"v":0},{"s":47,"g":18,"v":0},{"s":48,"g":18,"v":0},{"s":49,"g":18,"v":0},{"s":50,"g":18,"v":0},
{"s":51,"g":18,"v":0},{"s":52,"g":18,"v":0},{"s":53,"g":18,"v":0},{"s":54,"g":18,"v":0},{"s":55,"g":18,"v":0},{"s":56,"g":18,"v":0},{"s":57,"g":18,"v":0},{"s":58,"g":18,"v":0},{"s":59,"g":18,"v":0},{"s":60,"g":18,"v":0},
{"s":1,"g":19,"v":0},{"s":2,"g":19,"v":0},{"s":3,"g":19,"v":0},{"s":4,"g":19,"v":0},{"s":5,"g":19,"v":0},{"s":6,"g":19,"v":0},{"s":7,"g":19,"v":0},{"s":8,"g":19,"v":0},{"s":9,"g":19,"v":0},{"s":10,"g":19,"v":0},
{"s":11,"g":19,"v":0},{"s":12,"g":19,"v":0},{"s":13,"g":19,"v":0},{"s":14,"g":19,"v":0},{"s":15,"g":19,"v":0},{"s":16,"g":19,"v":0},{"s":17,"g":19,"v":0},{"s":18,"g":19,"v":0},{"s":19,"g":19,"v":0},{"s":20,"g":19,"v":0},
{"s":21,"g":19,"v":0},{"s":22,"g":19,"v":0},{"s":23,"g":19,"v":0},{"s":24,"g":19,"v":0},{"s":25,"g":19,"v":0},{"s":26,"g":19,"v":0},{"s":27,"g":19,"v":0},{"s":28,"g":19,"v":0},{"s":29,"g":19,"v":0},{"s":30,"g":19,"v":0.08},
{"s":31,"g":19,"v":0},{"s":32,"g":19,"v":0},{"s":33,"g":19,"v":0},{"s":34,"g":19,"v":0},{"s":35,"g":19,"v":0},{"s":36,"g":19,"v":0},{"s":37,"g":19,"v":0.1},{"s":38,"g":19,"v":0},{"s":39,"g":19,"v":0},{"s":40,"g":19,"v":0},
{"s":41,"g":19,"v":0},{"s":42,"g":19,"v":0},{"s":43,"g":19,"v":0},{"s":44,"g":19,"v":0},{"s":45,"g":19,"v":0},{"s":46,"g":19,"v":0},{"s":47,"g":19,"v":0},{"s":48,"g":19,"v":0},{"s":49,"g":19,"v":0},{"s":50,"g":19,"v":0},
{"s":51,"g":19,"v":0.06},{"s":52,"g":19,"v":0},{"s":53,"g":19,"v":0},{"s":54,"g":19,"v":0},{"s":55,"g":19,"v":0},{"s":56,"g":19,"v":0},{"s":57,"g":19,"v":0},{"s":58,"g":19,"v":0},{"s":59,"g":19,"v":0},{"s":60,"g":19,"v":0},
{"s":1,"g":20,"v":0},{"s":2,"g":20,"v":0},{"s":3,"g":20,"v":0},{"s":4,"g":20,"v":0},{"s":5,"g":20,"v":0},{"s":6,"g":20,"v":0},{"s":7,"g":20,"v":0},{"s":8,"g":20,"v":0},{"s":9,"g":20,"v":0},{"s":10,"g":20,"v":0},
{"s":11,"g":20,"v":0},{"s":12,"g":20,"v":0},{"s":13,"g":20,"v":0},{"s":14,"g":20,"v":0},{"s":15,"g":20,"v":0},{"s":16,"g":20,"v":0},{"s":17,"g":20,"v":0},{"s":18,"g":20,"v":0},{"s":19,"g":20,"v":0},{"s":20,"g":20,"v":0},
{"s":21,"g":20,"v":0},{"s":22,"g":20,"v":0},{"s":23,"g":20,"v":0},{"s":24,"g":20,"v":0},{"s":25,"g":20,"v":0},{"s":26,"g":20,"v":0},{"s":27,"g":20,"v":0},{"s":28,"g":20,"v":0},{"s":29,"g":20,"v":0},{"s":30,"g":20,"v":0},
{"s":31,"g":20,"v":0},{"s":32,"g":20,"v":0},{"s":33,"g":20,"v":0},{"s":34,"g":20,"v":0},{"s":35,"g":20,"v":0},{"s":36,"g":20,"v":0},{"s":37,"g":20,"v":0},{"s":38,"g":20,"v":0},{"s":39,"g":20,"v":0},{"s":40,"g":20,"v":0},
{"s":41,"g":20,"v":0},{"s":42,"g":20,"v":0},{"s":43,"g":20,"v":0},{"s":44,"g":20,"v":0},{"s":45,"g":20,"v":0},{"s":46,"g":20,"v":0},{"s":47,"g":20,"v":0},{"s":48,"g":20,"v":0},{"s":49,"g":20,"v":0},{"s":50,"g":20,"v":0.07},
{"s":51,"g":20,"v":0},{"s":52,"g":20,"v":0},{"s":53,"g":20,"v":0.18},{"s":54,"g":20,"v":0},{"s":55,"g":20,"v":0},{"s":56,"g":20,"v":0},{"s":57,"g":20,"v":0},{"s":58,"g":20,"v":0},{"s":59,"g":20,"v":0},{"s":60,"g":20,"v":0},
{"s":1,"g":21,"v":0},{"s":2,"g":21,"v":0},{"s":3,"g":21,"v":0},{"s":4,"g":21,"v":0},{"s":5,"g":21,"v":0},{"s":6,"g":21,"v":0},{"s":7,"g":21,"v":0},{"s":8,"g":21,"v":0},{"s":9,"g":21,"v":0},{"s":10,"g":21,"v":0},
{"s":11,"g":21,"v":0},{"s":12,"g":21,"v":0},{"s":13,"g":21,"v":0},{"s":14,"g":21,"v":0},{"s":15,"g":21,"v":0},{"s":16,"g":21,"v":0},{"s":17,"g":21,"v":0},{"s":18,"g":21,"v":0},{"s":19,"g":21,"v":0},{"s":20,"g":21,"v":0},
{"s":21,"g":21,"v":0},{"s":22,"g":21,"v":0},{"s":23,"g":21,"v":0},{"s":24,"g":21,"v":0},{"s":25,"g":21,"v":0},{"s":26,"g":21,"v":0},{"s":27,"g":21,"v":0},{"s":28,"g":21,"v":0},{"s":29,"g":21,"v":0},{"s":30,"g":21,"v":0},
{"s":31,"g":21,"v":0},{"s":32,"g":21,"v":0},{"s":33,"g":21,"v":0},{"s":34,"g":21,"v":0},{"s":35,"g":21,"v":0},{"s":36,"g":21,"v":0},{"s":37,"g":21,"v":0},{"s":38,"g":21,"v":0},{"s":39,"g":21,"v":0},{"s":40,"g":21,"v":0},
{"s":41,"g":21,"v":0},{"s":42,"g":21,"v":0},{"s":43,"g":21,"v":0},{"s":44,"g":21,"v":0},{"s":45,"g":21,"v":0},{"s":46,"g":21,"v":0},{"s":47,"g":21,"v":0},{"s":48,"g":21,"v":0},{"s":49,"g":21,"v":0},{"s":50,"g":21,"v":0},
{"s":51,"g":21,"v":0},{"s":52,"g":21,"v":0},{"s":53,"g":21,"v":0},{"s":54,"g":21,"v":0},{"s":55,"g":21,"v":0.2},{"s":56,"g":21,"v":0},{"s":57,"g":21,"v":0},{"s":58,"g":21,"v":0},{"s":59,"g":21,"v":0},{"s":60,"g":21,"v":0},
{"s":1,"g":22,"v":0},{"s":2,"g":22,"v":0},{"s":3,"g":22,"v":0},{"s":4,"g":22,"v":0},{"s":5,"g":22,"v":0},{"s":6,"g":22,"v":0},{"s":7,"g":22,"v":0},{"s":8,"g":22,"v":0},{"s":9,"g":22,"v":0},{"s":10,"g":22,"v":0},
{"s":11,"g":22,"v":0},{"s":12,"g":22,"v":0},{"s":13,"g":22,"v":0},{"s":14,"g":22,"v":0},{"s":15,"g":22,"v":0},{"s":16,"g":22,"v":0},{"s":17,"g":22,"v":0},{"s":18,"g":22,"v":0},{"s":19,"g":22,"v":0},{"s":20,"g":22,"v":0},
{"s":21,"g":22,"v":0},{"s":22,"g":22,"v":0},{"s":23,"g":22,"v":0},{"s":24,"g":22,"v":0},{"s":25,"g":22,"v":0},{"s":26,"g":22,"v":0},{"s":27,"g":22,"v":0},{"s":28,"g":22,"v":0},{"s":29,"g":22,"v":0},{"s":30,"g":22,"v":0},
{"s":31,"g":22,"v":0},{"s":32,"g":22,"v":0},{"s":33,"g":22,"v":0},{"s":34,"g":22,"v":0},{"s":35,"g":22,"v":0},{"s":36,"g":22,"v":0},{"s":37,"g":22,"v":0.18},{"s":38,"g":22,"v":0},{"s":39,"g":22,"v":0},{"s":40,"g":22,"v":0},
{"s":41,"g":22,"v":0},{"s":42,"g":22,"v":0},{"s":43,"g":22,"v":0},{"s":44,"g":22,"v":0},{"s":45,"g":22,"v":0},{"s":46,"g":22,"v":0},{"s":47,"g":22,"v":0},{"s":48,"g":22,"v":0},{"s":49,"g":22,"v":0},{"s":50,"g":22,"v":0},
{"s":51,"g":22,"v":0},{"s":52,"g":22,"v":0},{"s":53,"g":22,"v":0},{"s":54,"g":22,"v":0},{"s":55,"g":22,"v":0},{"s":56,"g":22,"v":0},{"s":57,"g":22,"v":0},{"s":58,"g":22,"v":0},{"s":59,"g":22,"v":0},{"s":60,"g":22,"v":0},
{"s":1,"g":23,"v":0},{"s":2,"g":23,"v":0},{"s":3,"g":23,"v":0},{"s":4,"g":23,"v":0},{"s":5,"g":23,"v":0},{"s":6,"g":23,"v":0},{"s":7,"g":23,"v":0},{"s":8,"g":23,"v":0},{"s":9,"g":23,"v":0},{"s":10,"g":23,"v":0},
{"s":11,"g":23,"v":0},{"s":12,"g":23,"v":0},{"s":13,"g":23,"v":0},{"s":14,"g":23,"v":0},{"s":15,"g":23,"v":0},{"s":16,"g":23,"v":0},{"s":17,"g":23,"v":0},{"s":18,"g":23,"v":0},{"s":19,"g":23,"v":0},{"s":20,"g":23,"v":0},
{"s":21,"g":23,"v":0},{"s":22,"g":23,"v":0},{"s":23,"g":23,"v":0},{"s":24,"g":23,"v":0},{"s":25,"g":23,"v":0},{"s":26,"g":23,"v":0},{"s":27,"g":23,"v":0},{"s":28,"g":23,"v":0},{"s":29,"g":23,"v":0},{"s":30,"g":23,"v":0},
{"s":31,"g":23,"v":0},{"s":32,"g":23,"v":0},{"s":33,"g":23,"v":0},{"s":34,"g":23,"v":0},{"s":35,"g":23,"v":0},{"s":36,"g":23,"v":0},{"s":37,"g":23,"v":0},{"s":38,"g":23,"v":0},{"s":39,"g":23,"v":0},{"s":40,"g":23,"v":0},
{"s":41,"g":23,"v":0},{"s":42,"g":23,"v":0},{"s":43,"g":23,"v":0},{"s":44,"g":23,"v":0},{"s":45,"g":23,"v":0},{"s":46,"g":23,"v":0},{"s":47,"g":23,"v":0},{"s":48,"g":23,"v":0},{"s":49,"g":23,"v":0},{"s":50,"g":23,"v":0.12},
{"s":51,"g":23,"v":0},{"s":52,"g":23,"v":0},{"s":53,"g":23,"v":0},{"s":54,"g":23,"v":0},{"s":55,"g":23,"v":0},{"s":56,"g":23,"v":0},{"s":57,"g":23,"v":0},{"s":58,"g":23,"v":0},{"s":59,"g":23,"v":0.07},{"s":60,"g":23,"v":0},
{"s":1,"g":24,"v":0},{"s":2,"g":24,"v":0},{"s":3,"g":24,"v":0},{"s":4,"g":24,"v":0},{"s":5,"g":24,"v":0},{"s":6,"g":24,"v":0},{"s":7,"g":24,"v":0},{"s":8,"g":24,"v":0},{"s":9,"g":24,"v":0},{"s":10,"g":24,"v":0},
{"s":11,"g":24,"v":0},{"s":12,"g":24,"v":0},{"s":13,"g":24,"v":0},{"s":14,"g":24,"v":0},{"s":15,"g":24,"v":0},{"s":16,"g":24,"v":0},{"s":17,"g":24,"v":0},{"s":18,"g":24,"v":0},{"s":19,"g":24,"v":0},{"s":20,"g":24,"v":0},
{"s":21,"g":24,"v":0},{"s":22,"g":24,"v":0},{"s":23,"g":24,"v":0},{"s":24,"g":24,"v":0},{"s":25,"g":24,"v":0},{"s":26,"g":24,"v":0},{"s":27,"g":24,"v":0},{"s":28,"g":24,"v":0},{"s":29,"g":24,"v":0},{"s":30,"g":24,"v":0.17},
{"s":31,"g":24,"v":0},{"s":32,"g":24,"v":0},{"s":33,"g":24,"v":0},{"s":34,"g":24,"v":0},{"s":35,"g":24,"v":0},{"s":36,"g":24,"v":0},{"s":37,"g":24,"v":0},{"s":38,"g":24,"v":0},{"s":39,"g":24,"v":0},{"s":40,"g":24,"v":0},
{"s":41,"g":24,"v":0},{"s":42,"g":24,"v":0},{"s":43,"g":24,"v":0},{"s":44,"g":24,"v":0},{"s":45,"g":24,"v":0},{"s":46,"g":24,"v":0},{"s":47,"g":24,"v":0},{"s":48,"g":24,"v":0},{"s":49,"g":24,"v":0},{"s":50,"g":24,"v":0},
{"s":51,"g":24,"v":0},{"s":52,"g":24,"v":0},{"s":53,"g":24,"v":0},{"s":54,"g":24,"v":0},{"s":55,"g":24,"v":0},{"s":56,"g":24,"v":0},{"s":57,"g":24,"v":0},{"s":58,"g":24,"v":0},{"s":59,"g":24,"v":0},{"s":60,"g":24,"v":0},
{"s":1,"g":25,"v":0},{"s":2,"g":25,"v":0},{"s":3,"g":25,"v":0},{"s":4,"g":25,"v":0},{"s":5,"g":25,"v":0},{"s":6,"g":25,"v":0},{"s":7,"g":25,"v":0},{"s":8,"g":25,"v":0},{"s":9,"g":25,"v":0},{"s":10,"g":25,"v":0},
{"s":11,"g":25,"v":0},{"s":12,"g":25,"v":0},{"s":13,"g":25,"v":0},{"s":14,"g":25,"v":0},{"s":15,"g":25,"v":0},{"s":16,"g":25,"v":0},{"s":17,"g":25,"v":0},{"s":18,"g":25,"v":0},{"s":19,"g":25,"v":0},{"s":20,"g":25,"v":0},
{"s":21,"g":25,"v":0},{"s":22,"g":25,"v":0},{"s":23,"g":25,"v":0},{"s":24,"g":25,"v":0},{"s":25,"g":25,"v":0},{"s":26,"g":25,"v":0},{"s":27,"g":25,"v":0},{"s":28,"g":25,"v":0},{"s":29,"g":25,"v":0},{"s":30,"g":25,"v":0},
{"s":31,"g":25,"v":0},{"s":32,"g":25,"v":0},{"s":33,"g":25,"v":0},{"s":34,"g":25,"v":0},{"s":35,"g":25,"v":0},{"s":36,"g":25,"v":0},{"s":37,"g":25,"v":0},{"s":38,"g":25,"v":0},{"s":39,"g":25,"v":0},{"s":40,"g":25,"v":0},
{"s":41,"g":25,"v":0},{"s":42,"g":25,"v":0},{"s":43,"g":25,"v":0},{"s":44,"g":25,"v":0},{"s":45,"g":25,"v":0},{"s":46,"g":25,"v":0},{"s":47,"g":25,"v":0},{"s":48,"g":25,"v":0},{"s":49,"g":25,"v":0},{"s":50,"g":25,"v":0.08},
{"s":51,"g":25,"v":0},{"s":52,"g":25,"v":0},{"s":53,"g":25,"v":0},{"s":54,"g":25,"v":0},{"s":55,"g":25,"v":0},{"s":56,"g":25,"v":0},{"s":57,"g":25,"v":0},{"s":58,"g":25,"v":0},{"s":59,"g":25,"v":0.08},{"s":60,"g":25,"v":0},
{"s":1,"g":26,"v":0},{"s":2,"g":26,"v":0},{"s":3,"g":26,"v":0},{"s":4,"g":26,"v":0},{"s":5,"g":26,"v":0},{"s":6,"g":26,"v":0},{"s":7,"g":26,"v":0},{"s":8,"g":26,"v":0},{"s":9,"g":26,"v":0},{"s":10,"g":26,"v":0},
{"s":11,"g":26,"v":0},{"s":12,"g":26,"v":0},{"s":13,"g":26,"v":0},{"s":14,"g":26,"v":0},{"s":15,"g":26,"v":0},{"s":16,"g":26,"v":0},{"s":17,"g":26,"v":0},{"s":18,"g":26,"v":0},{"s":19,"g":26,"v":0},{"s":20,"g":26,"v":0},
{"s":21,"g":26,"v":0},{"s":22,"g":26,"v":0},{"s":23,"g":26,"v":0},{"s":24,"g":26,"v":0},{"s":25,"g":26,"v":0},{"s":26,"g":26,"v":0},{"s":27,"g":26,"v":0},{"s":28,"g":26,"v":0},{"s":29,"g":26,"v":0},{"s":30,"g":26,"v":0.15},
{"s":31,"g":26,"v":0},{"s":32,"g":26,"v":0},{"s":33,"g":26,"v":0},{"s":34,"g":26,"v":0},{"s":35,"g":26,"v":0},{"s":36,"g":26,"v":0},{"s":37,"g":26,"v":0},{"s":38,"g":26,"v":0},{"s":39,"g":26,"v":0},{"s":40,"g":26,"v":0},
{"s":41,"g":26,"v":0},{"s":42,"g":26,"v":0},{"s":43,"g":26,"v":0},{"s":44,"g":26,"v":0},{"s":45,"g":26,"v":0},{"s":46,"g":26,"v":0},{"s":47,"g":26,"v":0},{"s":48,"g":26,"v":0},{"s":49,"g":26,"v":0},{"s":50,"g":26,"v":0},
{"s":51,"g":26,"v":0},{"s":52,"g":26,"v":0},{"s":53,"g":26,"v":0},{"s":54,"g":26,"v":0},{"s":55,"g":26,"v":0},{"s":56,"g":26,"v":0},{"s":57,"g":26,"v":0},{"s":58,"g":26,"v":0},{"s":59,"g":26,"v":0},{"s":60,"g":26,"v":0},
{"s":1,"g":27,"v":0},{"s":2,"g":27,"v":0},{"s":3,"g":27,"v":0},{"s":4,"g":27,"v":0},{"s":5,"g":27,"v":0},{"s":6,"g":27,"v":0},{"s":7,"g":27,"v":0},{"s":8,"g":27,"v":0},{"s":9,"g":27,"v":0},{"s":10,"g":27,"v":0},
{"s":11,"g":27,"v":0},{"s":12,"g":27,"v":0},{"s":13,"g":27,"v":0},{"s":14,"g":27,"v":0},{"s":15,"g":27,"v":0},{"s":16,"g":27,"v":0},{"s":17,"g":27,"v":0},{"s":18,"g":27,"v":0},{"s":19,"g":27,"v":0},{"s":20,"g":27,"v":0},
{"s":21,"g":27,"v":0},{"s":22,"g":27,"v":0},{"s":23,"g":27,"v":0.08},{"s":24,"g":27,"v":0},{"s":25,"g":27,"v":0},{"s":26,"g":27,"v":0},{"s":27,"g":27,"v":0},{"s":28,"g":27,"v":0},{"s":29,"g":27,"v":0},{"s":30,"g":27,"v":0},
{"s":31,"g":27,"v":0},{"s":32,"g":27,"v":0},{"s":33,"g":27,"v":0},{"s":34,"g":27,"v":0},{"s":35,"g":27,"v":0},{"s":36,"g":27,"v":0},{"s":37,"g":27,"v":0},{"s":38,"g":27,"v":0},{"s":39,"g":27,"v":0},{"s":40,"g":27,"v":0},
{"s":41,"g":27,"v":0},{"s":42,"g":27,"v":0},{"s":43,"g":27,"v":0},{"s":44,"g":27,"v":0},{"s":45,"g":27,"v":0},{"s":46,"g":27,"v":0},{"s":47,"g":27,"v":0},{"s":48,"g":27,"v":0},{"s":49,"g":27,"v":0},{"s":50,"g":27,"v":0},
{"s":51,"g":27,"v":0},{"s":52,"g":27,"v":0},{"s":53,"g":27,"v":0},{"s":54,"g":27,"v":0},{"s":55,"g":27,"v":0},{"s":56,"g":27,"v":0},{"s":57,"g":27,"v":0},{"s":58,"g":27,"v":0.1},{"s":59,"g":27,"v":0},{"s":60,"g":27,"v":0}
]
},
"concat": [
{
"width": 768, "height": 33,
"data": {"name": "groups"},
"layer": [
{"mark": {"type": "rect", "stroke": "white", "strokeWidth": 1},
 "encoding": {
  "x": {"field": "start", "type": "quantitative", "scale": {"domain": [0, 60], "nice": false, "zero": false}, "axis": null},
  "x2": {"field": "end"},
  "color": {"field": "group", "type": "nominal", "scale": {"domain": ["Dominant", "Non-dominant"], "range": ["#1f77b4", "#ff7f0e"]}, "legend": null}
 }},
{"mark": {"type": "text", "font": "DejaVu Sans Condensed", "fontWeight": "bold", "fontSize": 17.5, "color": "black", "dy": 1},
 "encoding": {
  "x": {"field": "mid", "type": "quantitative"},
  "text": {"field": "group"}
 }}
]
},
{
"width": 14, "height": 33,
"data": {"values": []},
"mark": {"type": "rect"},
"encoding": {}
},
{
"width": 768, "height": 436,
"data": {"name": "cells"},
"transform": [{"lookup": "g", "from": {"data": {"name": "genera"}, "key": "g", "fields": ["name"]}}],
"mark": {"type": "rect", "stroke": "white", "strokeWidth": 0.6, "strokeOpacity": 0.8},
"encoding": {
 "x": {"field": "s", "type": "ordinal", "scale": {"paddingInner": 0, "paddingOuter": 0},
  "axis": {"title": "Samples", "labels": false, "ticks": false, "domain": false, "titleFont": "DejaVu Sans Condensed", "titleFontSize": 19, "titleFontWeight": "normal", "titleColor": "black", "titlePadding": 17}},
 "y": {"field": "name", "type": "nominal", "sort": {"field": "g", "op": "min", "order": "ascending"}, "scale": {"paddingInner": 0, "paddingOuter": 0},
  "axis": {"title": "Bacterial genera", "labelFont": "DejaVu Sans Condensed", "labelFontStyle": "italic", "labelFontSize": 11.5, "labelColor": "black", "tickColor": "black", "tickSize": 4, "labelPadding": 2, "domain": false, "titleFont": "DejaVu Sans", "titleFontSize": 19, "titleFontWeight": "normal", "titleColor": "black", "titlePadding": 3}},
 "color": {"field": "v", "type": "quantitative",
  "scale": {"domain": [0, 0.125, 0.25, 0.375, 0.5, 0.625, 0.75, 0.875, 1], "range": ["#ffffcc", "#ffeda0", "#fed976", "#feb24c", "#fd8d3c", "#fc4e2a", "#e31a1c", "#bd0026", "#800026"], "interpolate": "rgb"},
  "legend": null}
},
"view": {"stroke": "#333333", "strokeWidth": 2}
},
{
"width": 14, "height": 436,
"data": {"name": "bar"},
"mark": {"type": "rect", "stroke": "#333333", "strokeWidth": 1,
 "fill": {"gradient": "linear", "x1": 0, "y1": 1, "x2": 0, "y2": 0,
  "stops": [{"offset": 0, "color": "#ffffcc"}, {"offset": 0.125, "color": "#ffeda0"}, {"offset": 0.25, "color": "#fed976"}, {"offset": 0.375, "color": "#feb24c"}, {"offset": 0.5, "color": "#fd8d3c"}, {"offset": 0.625, "color": "#fc4e2a"}, {"offset": 0.75, "color": "#e31a1c"}, {"offset": 0.875, "color": "#bd0026"}, {"offset": 1, "color": "#800026"}]}},
"encoding": {
 "y": {"field": "lo", "type": "quantitative", "scale": {"domain": [0, 1], "nice": false, "zero": false},
  "axis": {"orient": "right", "values": [0, 0.2, 0.4, 0.6, 0.8, 1], "format": ".1f", "grid": false, "domain": false, "tickSize": 4, "tickColor": "black", "labelFont": "DejaVu Sans Condensed", "labelFontSize": 12, "labelColor": "black", "labelPadding": 2, "title": "Relative abundance", "titleFont": "DejaVu Sans", "titleFontSize": 20, "titleFontWeight": "normal", "titleColor": "black", "titleAngle": 270, "titleBaseline": "top", "titlePadding": 8}},
 "y2": {"field": "hi"}
}
}
]
}
